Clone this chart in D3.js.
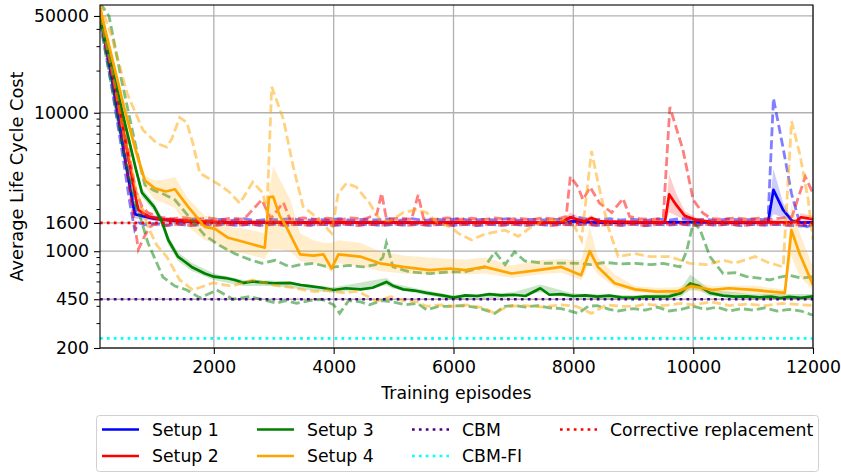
<!DOCTYPE html>
<html>
<head>
<meta charset="utf-8">
<script src="https://cdn.jsdelivr.net/npm/d3@7"></script>
<style>
  body { margin: 0; background: #fff; }
  svg text { font-family: "DejaVu Sans", sans-serif; fill: #000; }
</style>
</head>
<body>
<div id="chart"></div>
<script>
// values, [episode, cost] or [episode, low, high]
var s1Mean = [[100,50000],[300,17300],[500,5100],[640,2300],[680,1850],[800,1800],[1000,1720],[1200,1680],[1400,1650],[1700,1630],[2000,1620],[2500,1610],[3000,1615],[3500,1610],[4000,1620],[4500,1610],[5000,1615],[5500,1605],[6000,1610],[6500,1615],[7000,1610],[7500,1605],[7900,1615],[8000,1650],[8200,1630],[8400,1610],[9000,1610],[9500,1615],[10000,1620],[10500,1610],[11000,1610],[11250,1620],[11340,2770],[11500,1990],[11650,1660],[11800,1610],[12000,1615]]
var s1Band = [[100,46000,54000],[300,15500,19000],[500,4600,5700],[640,2100,2500],[680,1720,2000],[800,1700,1880],[1000,1660,1780],[1400,1600,1700],[2000,1580,1660],[4000,1580,1660],[7900,1580,1660],[8000,1590,1720],[8400,1580,1650],[11250,1580,1660],[11340,1860,3930],[11500,1750,2250],[11650,1600,1720],[11800,1570,1650],[12000,1580,1650]]
var s1Max = [[100,53000],[300,19000],[500,5800],[640,2500],[700,1900],[900,1800],[1100,1720],[1300,1700],[1500,1680],[1700,1720],[1900,1660],[2100,1700],[2300,1670],[2500,1720],[2700,1660],[2900,1700],[3100,1690],[3300,1720],[3500,1660],[3700,1700],[3900,1680],[4100,1720],[4300,1670],[4500,1700],[4700,1680],[4900,1710],[5100,1670],[5300,1720],[5500,1670],[5700,1700],[5900,1680],[6100,1720],[6300,1670],[6500,1700],[6700,1680],[6900,1720],[7100,1670],[7300,1700],[7500,1680],[7700,1700],[7900,1690],[8000,1780],[8200,1720],[8400,1690],[8600,1720],[8800,1680],[9000,1700],[9200,1670],[9400,1710],[9600,1680],[9800,1720],[10000,1690],[10200,1700],[10400,1670],[10600,1710],[10800,1680],[11000,1700],[11200,1690],[11250,1720],[11340,12700],[11500,5600],[11640,2620],[11780,1580],[11900,1500],[12000,1560]]
var s1Min = [[100,47000],[300,15000],[500,4300],[600,2200],[680,1420],[750,1600],[850,1550],[1000,1580],[1200,1540],[1400,1570],[1600,1530],[1800,1560],[2000,1540],[2200,1570],[2400,1535],[2600,1565],[2800,1540],[3000,1570],[3200,1530],[3400,1560],[3600,1545],[3800,1570],[4000,1535],[4200,1565],[4400,1540],[4600,1570],[4800,1530],[5000,1560],[5200,1545],[5400,1570],[5600,1535],[5800,1565],[6000,1540],[6200,1570],[6400,1530],[6600,1560],[6800,1545],[7000,1570],[7200,1535],[7400,1565],[7600,1540],[7800,1570],[8000,1550],[8200,1565],[8400,1535],[8600,1565],[8800,1540],[9000,1570],[9200,1530],[9400,1560],[9600,1545],[9800,1570],[10000,1535],[10200,1565],[10400,1540],[10600,1570],[10800,1530],[11000,1560],[11200,1545],[11400,1560],[11600,1540],[11800,1520],[12000,1550]]

var s2Mean = [[100,53000],[300,21100],[500,7100],[700,2380],[740,1990],[900,1790],[1100,1700],[1400,1670],[1700,1650],[2000,1630],[2500,1620],[3000,1625],[3500,1615],[4000,1620],[4500,1615],[5000,1625],[5500,1610],[6000,1620],[6500,1615],[7000,1620],[7500,1610],[7800,1620],[7950,1760],[8100,1680],[8200,1650],[8300,1740],[8450,1640],[9000,1620],[9500,1620],[9530,1640],[9600,2570],[9720,2150],[9860,1800],[10050,1680],[10300,1630],[10800,1620],[11300,1620],[11600,1615],[11700,1620],[11800,1760],[11950,1720],[12000,1700]]
var s2Band = [[100,48000,58000],[300,19000,23500],[500,6400,7900],[700,2150,2650],[740,1850,2200],[900,1700,1900],[1100,1640,1760],[1400,1620,1720],[2000,1590,1670],[7800,1590,1660],[7950,1640,1900],[8100,1620,1760],[8200,1610,1720],[8300,1620,1820],[8450,1600,1690],[9500,1590,1660],[9530,1600,1700],[9600,1900,3600],[9720,1800,2600],[9860,1680,1950],[10050,1620,1750],[10300,1590,1670],[11700,1590,1660],[11800,1660,1880],[11950,1640,1820],[12000,1630,1800]]
var s2Max = [[100,57000],[300,23500],[500,8000],[700,2700],[800,2100],[900,1900],[1100,1760],[1300,1720],[1500,1750],[1700,1700],[1900,1740],[2100,1690],[2300,1730],[2500,1700],[2800,2350],[2950,1720],[3160,2250],[3270,1700],[3500,1740],[3700,1700],[3900,1730],[4100,1690],[4300,1740],[4500,1700],[4720,1850],[4800,2620],[4880,1720],[5100,1730],[5300,1700],[5410,2550],[5500,1720],[5700,1700],[5900,1740],[6100,1700],[6300,1730],[6500,1690],[6700,1740],[6900,1700],[7100,1730],[7300,1690],[7500,1740],[7700,1700],[7880,1780],[7950,3460],[8080,2900],[8160,2350],[8280,2900],[8440,2220],[8640,1900],[8830,2400],[8940,1780],[9100,1720],[9300,1700],[9500,1720],[9611,11000],[9830,5390],[10000,2350],[10160,1890],[10300,1720],[10500,1700],[10700,1740],[10900,1700],[11100,1730],[11300,1700],[11500,1740],[11650,1780],[11870,3460],[12000,2620]]
var s2Min = [[100,49000],[300,18000],[500,5500],[650,1900],[740,1030],[850,1300],[935,1500],[1000,1560],[1200,1530],[1400,1570],[1600,1540],[1800,1565],[2000,1530],[2200,1560],[2400,1540],[2600,1570],[2800,1530],[3000,1560],[3200,1545],[3400,1570],[3600,1535],[3800,1560],[4000,1540],[4200,1570],[4400,1530],[4600,1560],[4800,1545],[5000,1570],[5200,1535],[5400,1560],[5600,1540],[5800,1570],[6000,1530],[6200,1560],[6400,1545],[6600,1570],[6800,1535],[7000,1560],[7200,1540],[7400,1570],[7600,1530],[7800,1560],[8000,1545],[8200,1570],[8400,1535],[8600,1560],[8800,1540],[9000,1570],[9200,1530],[9400,1560],[9600,1560],[9800,1570],[10000,1535],[10200,1560],[10400,1540],[10600,1570],[10800,1530],[11000,1560],[11200,1545],[11400,1570],[11600,1535],[11800,1560],[12000,1545]]

var s3Mean = [[100,50000],[300,22000],[500,9000],[700,3900],[800,2650],[1000,2100],[1130,1650],[1240,1205],[1400,915],[1500,850],[1630,770],[1850,690],[2000,655],[2200,640],[2350,620],[2500,590],[2650,605],[2800,595],[3000,587],[3270,590],[3450,570],[3600,560],[3800,545],[4000,525],[4200,540],[4450,530],[4650,545],[4880,600],[5000,560],[5160,530],[5350,520],[5550,500],[5830,478],[6000,462],[6200,480],[6400,475],[6600,490],[6800,480],[7000,485],[7200,475],[7450,540],[7600,485],[7800,490],[8000,475],[8200,480],[8400,470],[8600,478],[8800,465],[9000,462],[9200,470],[9400,470],[9600,472],[9800,500],[9950,585],[10100,560],[10280,500],[10500,478],[10700,470],[10900,472],[11100,465],[11300,470],[11450,458],[11600,468],[11800,460],[12000,472]]
var s3Band = [[100,47000,53000],[300,20500,23500],[500,8400,9700],[700,3600,4200],[800,2450,2850],[1000,1950,2250],[1130,1520,1780],[1240,1110,1300],[1400,850,985],[1630,720,825],[2000,620,690],[2500,560,620],[3000,560,615],[4000,500,550],[4880,565,640],[5000,535,585],[5550,480,520],[6000,445,480],[7000,465,505],[7450,505,575],[8000,455,495],[9000,445,480],[9600,450,495],[9800,470,540],[9950,530,680],[10100,520,610],[10280,475,525],[11000,450,490],[12000,455,490]]
var s3Max = [[100,62000],[250,50000],[450,18000],[600,9000],[750,4500],[850,3000],[1000,2750],[1150,2600],[1350,2350],[1630,1680],[1850,1300],[2100,1100],[2350,960],[2600,870],[2800,818],[3020,860],[3270,770],[3450,800],[3660,818],[3850,780],[4020,770],[4250,790],[4490,770],[4700,800],[4820,900],[4880,1150],[4990,770],[5270,710],[5600,690],[5940,710],[6190,710],[6520,770],[6690,990],[6860,800],[7020,990],[7190,850],[7520,818],[7800,820],[8080,818],[8300,800],[8530,830],[8800,810],[9030,818],[9300,800],[9500,818],[9780,770],[9890,1000],[10000,1600],[10110,1450],[10280,915],[10500,690],[10700,700],[10890,655],[11100,640],[11280,620],[11450,650],[11610,670],[11800,640],[12000,655]]
var s3Min = [[100,45000],[300,15000],[500,5000],[700,2100],[770,1770],[900,1150],[1150,650],[1350,560],[1550,525],[1770,460],[2050,525],[2320,450],[2600,470],[2880,440],[3050,421],[3200,440],[3380,421],[3600,440],[3800,450],[4000,410],[4100,356],[4250,440],[4450,430],[4600,410],[4800,440],[5000,430],[5200,410],[5400,420],[5550,377],[5750,400],[5940,400],[6150,405],[6350,395],[6520,377],[6690,356],[6850,400],[7020,405],[7200,395],[7400,405],[7600,390],[7800,385],[8080,356],[8250,400],[8400,405],[8600,380],[8750,370],[9000,385],[9200,375],[9400,395],[9600,370],[9800,380],[10000,400],[10200,380],[10400,395],[10600,370],[10800,385],[11000,375],[11200,390],[11400,370],[11600,380],[11800,370],[12000,345]]

var s4Mean = [[100,57000],[300,25000],[500,11000],[700,5300],[850,3240],[1015,2850],[1200,2700],[1350,2800],[1570,2100],[1850,1500],[2020,1450],[2240,1250],[2520,1160],[2850,1060],[2920,2450],[2990,2480],[3100,1800],[3210,1500],[3440,950],[3660,930],[3830,950],[3965,750],[4080,950],[4440,915],[4770,818],[5160,770],[5600,730],[5940,750],[6200,730],[6520,770],[6970,690],[7410,730],[7800,770],[8130,670],[8275,1000],[8410,770],[8690,587],[9030,530],[9390,510],[9750,515],[9970,560],[10330,525],[10600,540],[11000,525],[11530,500],[11640,1420],[11780,950],[12000,570]]
var s4Band = [[100,53000,61000],[300,23000,27000],[500,9800,12200],[700,4700,5900],[850,2900,3500],[1015,2350,3240],[1200,2200,3300],[1350,2050,3450],[1570,1500,2400],[1850,1200,1800],[2020,1150,1750],[2240,1000,1500],[2520,960,1450],[2850,880,1350],[2920,1000,2700],[2990,1030,4100],[3100,1030,3300],[3270,1000,2400],[3440,850,1350],[3660,820,1200],[3830,800,1150],[3965,700,1150],[4080,820,1200],[4440,780,1150],[4770,720,1000],[5160,690,930],[5600,680,900],[5940,690,880],[6200,680,870],[6520,690,900],[6970,640,790],[7410,680,860],[7800,700,880],[8130,620,860],[8275,820,1500],[8410,680,900],[8690,550,680],[9030,505,560],[9390,490,545],[9750,490,550],[9970,520,600],[10330,500,560],[11000,495,565],[11530,470,530],[11640,915,2220],[11780,655,1350],[12000,525,770]]
var s4Max = [[100,62000],[300,35000],[550,13900],[815,7520],[1050,6000],[1215,5650],[1300,6500],[1430,9260],[1550,8500],[1650,6000],[1766,3660],[2050,3100],[2250,2700],[2434,2220],[2650,3160],[2820,2620],[2885,1890],[2966,15400],[3160,9000],[3325,4080],[3490,2100],[3714,1760],[3964,1350],[4076,2620],[4215,3100],[4380,2900],[4600,2220],[4770,1680],[4940,1650],[5160,1900],[5380,2000],[5550,1900],[5720,1620],[5940,1500],[6077,1350],[6300,1205],[6520,1330],[6857,1420],[7080,1280],[7300,1500],[7524,1680],[7800,1680],[8025,1500],[8136,1205],[8303,5300],[8414,3100],[8581,1500],[8748,915],[9026,960],[9277,915],[9600,915],[9945,818],[10223,800],[10500,860],[10700,820],[11030,915],[11250,830],[11502,770],[11642,8700],[11781,5000],[11920,2350],[12000,1205]]
var s4Min = [[100,50000],[300,20000],[500,7000],[700,2800],[900,1500],[1050,1100],[1215,910],[1430,620],[1650,525],[1985,590],[2300,560],[2650,620],[2985,570],[3320,545],[3500,525],[3700,510],[3900,525],[4150,500],[4400,515],[4715,435],[4950,470],[5160,440],[5400,430],[5550,400],[5800,410],[6000,400],[6200,410],[6500,390],[6690,356],[6900,400],[7200,405],[7500,395],[7800,410],[8050,400],[8303,356],[8550,410],[8800,400],[9026,400],[9200,415],[9500,405],[9800,420],[10000,410],[10300,430],[10600,405],[10900,415],[11200,405],[11500,420],[11800,410],[12000,405]]

var refNames = ["CBM", "CBM-FI", "Corrective replacement"]
var refValues = [450, 235, 1600]
var yTicks = [200, 450, 1000, 1600, 10000, 50000]
var xTicks = [2000, 4000, 6000, 8000, 10000, 12000]

var setups = [
  {name: "Setup 1", color: "#0000ff", mean: s1Mean, band: s1Band, lo: s1Min, hi: s1Max},
  {name: "Setup 2", color: "#ff0000", mean: s2Mean, band: s2Band, lo: s2Min, hi: s2Max},
  {name: "Setup 3", color: "#008000", mean: s3Mean, band: s3Band, lo: s3Min, hi: s3Max},
  {name: "Setup 4", color: "#ffa500", mean: s4Mean, band: s4Band, lo: s4Min, hi: s4Max}
]
var refs = [
  {name: refNames[0], value: refValues[0], color: "#4b0082"},
  {name: refNames[1], value: refValues[1], color: "#00ffff"},
  {name: refNames[2], value: refValues[2], color: "#ff0000"}
]

var W = 841, H = 473
var m = {left: 100, right: 28, top: 5, bottom: 125}
var fs = 17.3

var svg = d3.select("#chart").append("svg")
  .attr("width", W)
  .attr("height", H)

var x = d3.scaleLinear().domain([100, 12000]).range([m.left, W - m.right])
var y = d3.scaleLog().domain([200, 60000]).range([H - m.bottom, m.top])

svg.append("defs").append("clipPath").attr("id", "plot")
  .append("rect")
  .attr("x", m.left).attr("y", m.top)
  .attr("width", W - m.left - m.right).attr("height", H - m.top - m.bottom)

// grid
var grid = svg.append("g")
grid.selectAll("line.gx").data(xTicks).enter().append("line")
  .attr("x1", d => x(d)).attr("x2", d => x(d))
  .attr("y1", m.top).attr("y2", H - m.bottom)
  .attr("stroke", "#b0b0b0").attr("stroke-width", 1.3)
grid.selectAll("line.gy").data(yTicks).enter().append("line")
  .attr("x1", m.left).attr("x2", W - m.right)
  .attr("y1", d => y(d)).attr("y2", d => y(d))
  .attr("stroke", "#b0b0b0").attr("stroke-width", 1.3)

var line = d3.line().x(d => x(d[0])).y(d => y(d[1]))
var area = d3.area().x(d => x(d[0])).y0(d => y(d[1])).y1(d => y(d[2]))

var plot = svg.append("g").attr("clip-path", "url(#plot)")

setups.forEach(function(s) {
  plot.append("path").datum(s.band)
    .attr("d", area)
    .attr("fill", s.color).attr("fill-opacity", 0.2)
  ;[s.lo, s.hi].forEach(function(arr) {
    plot.append("path").datum(arr)
      .attr("d", line)
      .attr("fill", "none")
      .attr("stroke", s.color).attr("stroke-opacity", 0.5)
      .attr("stroke-width", 2.8).attr("stroke-dasharray", "9,4")
  })
  plot.append("path").datum(s.mean)
    .attr("d", line)
    .attr("fill", "none")
    .attr("stroke", s.color).attr("stroke-width", 2.7)
    .attr("stroke-linejoin", "round")
})

plot.selectAll("line.ref").data(refs).enter().append("line")
  .attr("x1", m.left).attr("x2", W - m.right)
  .attr("y1", d => y(d.value)).attr("y2", d => y(d.value))
  .attr("stroke", d => d.color).attr("stroke-width", 2.7)
  .attr("stroke-dasharray", "2.7,4.2")

// axes
var xAxis = svg.append("g")
  .attr("transform", "translate(0," + (H - m.bottom) + ")")
  .call(d3.axisBottom(x).tickValues(xTicks).tickFormat(d3.format("d")).tickSize(6).tickPadding(7))
var yAxis = svg.append("g")
  .attr("transform", "translate(" + m.left + ",0)")
  .call(d3.axisLeft(y).tickValues(yTicks).tickFormat(d3.format("d")).tickSize(6).tickPadding(5))

var minor = [300, 400, 500, 600, 700, 800, 900, 2000, 3000, 4000, 5000, 6000, 7000, 8000, 9000, 20000, 30000, 40000]
svg.append("g").selectAll("line").data(minor).enter().append("line")
  .attr("x1", m.left - 3.5).attr("x2", m.left)
  .attr("y1", d => y(d)).attr("y2", d => y(d))
  .attr("stroke", "#000").attr("stroke-width", 1)

;[xAxis, yAxis].forEach(function(a) {
  a.select(".domain").remove()
  a.selectAll("text").style("font-size", fs + "px").attr("fill", "#000")
  a.selectAll("line").attr("stroke", "#000").attr("stroke-width", 1.1)
})

svg.append("rect")
  .attr("x", m.left).attr("y", m.top)
  .attr("width", W - m.left - m.right).attr("height", H - m.top - m.bottom)
  .attr("fill", "none").attr("stroke", "#000").attr("stroke-width", 1.1)

svg.append("text")
  .attr("x", (m.left + W - m.right) / 2).attr("y", 399)
  .attr("text-anchor", "middle")
  .style("font-size", fs + "px")
  .text("Training episodes")

svg.append("text")
  .attr("transform", "translate(23," + ((m.top + H - m.bottom) / 2) + ") rotate(-90)")
  .attr("text-anchor", "middle")
  .style("font-size", "17.8px")
  .text("Average Life Cycle Cost")

// legend, 4 columns x 2 rows
var legend = svg.append("g")
legend.append("rect")
  .attr("x", 96.5).attr("y", 415.5).attr("width", 722).attr("height", 56)
  .attr("rx", 3)
  .attr("fill", "#fff").attr("fill-opacity", 0.8)
  .attr("stroke", "#d0d0d0").attr("stroke-width", 1)

var items = [
  {name: setups[0].name, color: setups[0].color, dot: false, col: 0, row: 0},
  {name: setups[1].name, color: setups[1].color, dot: false, col: 0, row: 1},
  {name: setups[2].name, color: setups[2].color, dot: false, col: 1, row: 0},
  {name: setups[3].name, color: setups[3].color, dot: false, col: 1, row: 1},
  {name: refs[0].name, color: refs[0].color, dot: true, col: 2, row: 0},
  {name: refs[1].name, color: refs[1].color, dot: true, col: 2, row: 1},
  {name: refs[2].name, color: refs[2].color, dot: true, col: 3, row: 0}
]
var colX = [102, 257, 412, 560]
var rowY = [429.5, 456]

var li = legend.selectAll("g.item").data(items).enter().append("g")
  .attr("transform", d => "translate(" + colX[d.col] + "," + rowY[d.row] + ")")
li.append("line")
  .attr("x1", 0).attr("x2", 37)
  .attr("stroke", d => d.color).attr("stroke-width", 2.7)
  .attr("stroke-dasharray", d => d.dot ? "2.7,4.2" : null)
li.append("text")
  .attr("x", 50).attr("dy", "0.35em")
  .style("font-size", fs + "px")
  .text(d => d.name)
</script>
</body>
</html>
